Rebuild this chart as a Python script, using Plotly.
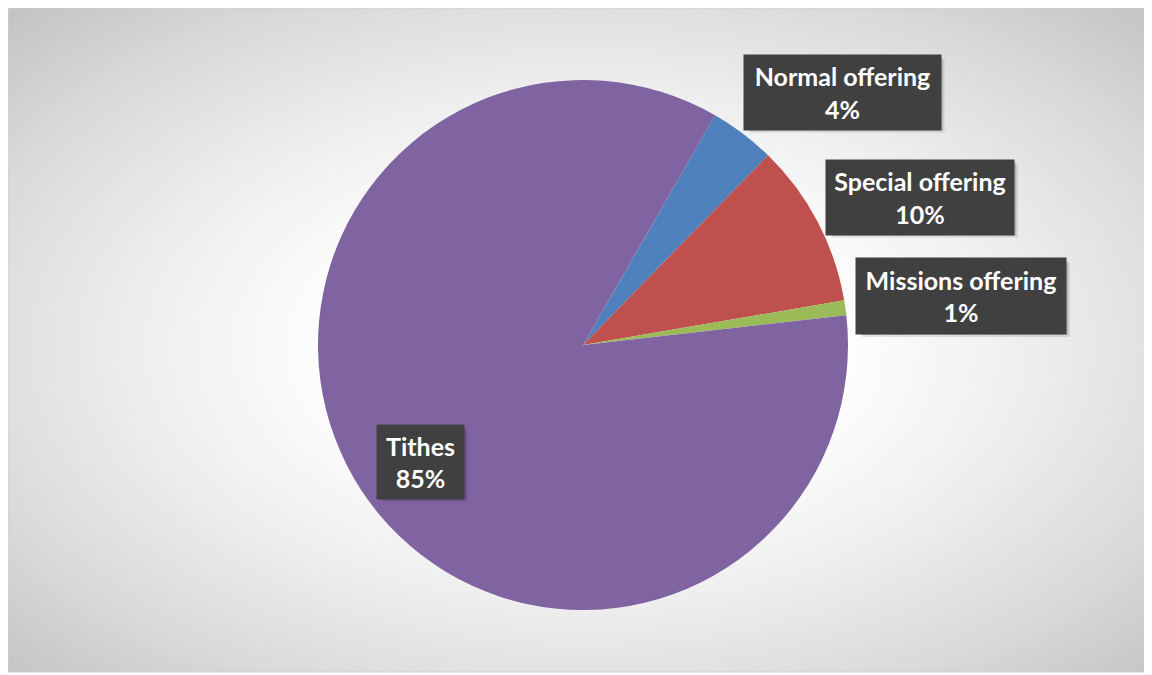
import numpy as np
import plotly.graph_objects as go

# ---- data ----
categories = ["Normal offering", "Special offering", "Missions offering", "Tithes"]
values = [4.0, 10.0, 0.9, 85.1]
percent_labels = ["4%", "10%", "1%", "85%"]
colors = ["#4F81BD", "#C0504D", "#9BBB59", "#8064A2"]

W, H = 1152, 675
OFF = 8  # page body margin offset


def px(x):
    return min(1.0, max(0.0, (x - OFF) / W))


def py(y):
    return min(1.0, max(0.0, 1 - (y - OFF) / H))


fig = go.Figure()

# ---- radial gradient background (styling only) ----
nx, ny = 120, 80
gx = np.linspace(0, 1, nx)
gy = np.linspace(0, 1, ny)
X, Y = np.meshgrid(gx, gy)
cx, cy = 0.505, 0.49
d = np.sqrt(((X - cx) / 0.5) ** 2 + ((Y - cy) / 0.5) ** 2) / np.sqrt(2)
fig.add_trace(go.Heatmap(
    x=gx, y=gy, z=d, zsmooth="best", showscale=False, hoverinfo="skip",
    zmin=0, zmax=1,
    colorscale=[[0, "#ffffff"], [0.3, "#ffffff"], [0.55, "#eeeeee"], [0.8, "#d9d9d9"], [1.0, "#c4c4c4"]],
    xaxis="x", yaxis="y",
))

# ---- pie ----
r = 265
pcx, pcy = 583, 345
fig.add_trace(go.Pie(
    labels=categories, values=values, sort=False, direction="clockwise",
    rotation=29.9, marker=dict(colors=colors, line=dict(width=0)),
    textinfo="none", hoverinfo="label+percent", showlegend=False,
    domain=dict(x=[px(pcx - r), px(pcx + r)], y=[py(pcy + r), py(pcy - r)]),
))

# ---- label boxes ----
boxes = [  # (center x px, center y px, width, height)
    (842, 91, 195, 73),
    (920, 196, 186, 73),
    (961, 295, 208, 74),
    (420, 461, 85, 72),
]
shapes = [dict(type="rect", xref="paper", yref="paper", x0=px(6), x1=px(1150),
               y0=py(672), y1=py(8), line=dict(color="#d0d0d0", width=1))]
for (bx, by, bw, bh), cat, pct in zip(boxes, categories, percent_labels):
    for k, a in ((5, 0.10), (3, 0.15)):
        shapes.append(dict(
            type="rect", xref="paper", yref="paper", layer="above",
            x0=px(bx - bw / 2 + k), x1=px(bx + bw / 2 + k),
            y0=py(by + bh / 2 + k), y1=py(by - bh / 2 + k),
            fillcolor=f"rgba(0,0,0,{a})", line=dict(width=0),
        ))
    fig.add_annotation(
        x=px(bx), y=py(by + 1), xref="paper", yref="paper",
        xanchor="center", yanchor="middle",
        text=f"<b>{cat}</b><br><b>{pct}</b>", showarrow=False,
        width=bw, height=bh, bgcolor="#404040", align="center",
        font=dict(family="Lato", size=25, color="white"),
    )

fig.update_layout(
    width=W, height=H,
    margin=dict(l=0, r=0, t=0, b=0),
    paper_bgcolor="white", plot_bgcolor="white",
    xaxis=dict(domain=[px(6), px(1150)], range=[0, 1], visible=False, fixedrange=True),
    yaxis=dict(domain=[py(672), py(8)], range=[0, 1], visible=False, fixedrange=True),
    shapes=shapes,
)

fig.write_html("out.html")
